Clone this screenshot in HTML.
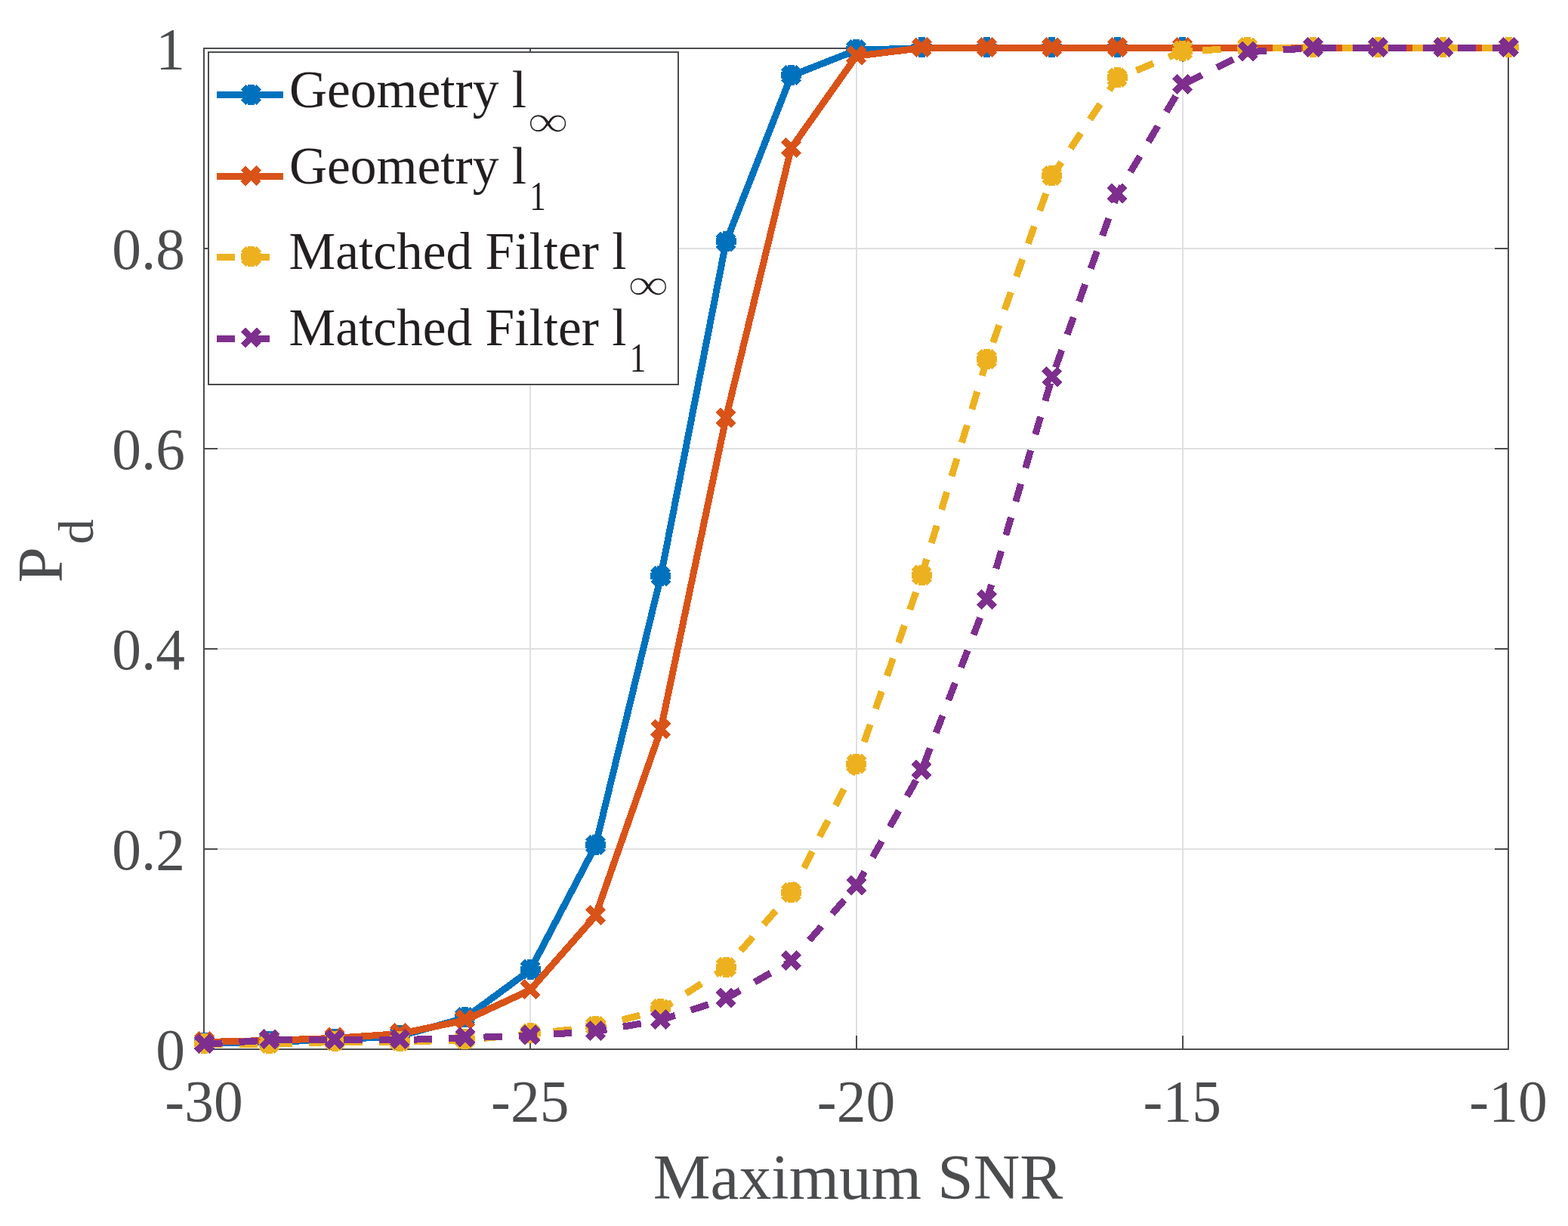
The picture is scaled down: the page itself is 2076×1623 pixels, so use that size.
<!DOCTYPE html>
<html lang="en">
<head>
<meta charset="utf-8">
<title>Pd vs Maximum SNR</title>
<style>
html,body{margin:0;padding:0;background:#ffffff;}
body{width:2076px;height:1623px;overflow:hidden;}
svg{display:block;}
</style>
</head>
<body>
<svg width="2076" height="1623" viewBox="0 0 2076 1623" shape-rendering="crispEdges">
<rect x="0" y="0" width="2076" height="1623" fill="#ffffff"/>
<path d="M702 64V1389M1134 64V1389M1566 64V1389M270 1124H1997M270 859H1997M270 594H1997M270 329H1997" stroke="#dfe0e2" stroke-width="2" fill="none"/>
<path d="M270 1389V1371M270 64V82M702 1389V1371M702 64V82M1134 1389V1371M1134 64V82M1566 1389V1371M1566 64V82M1997 1389V1371M1997 64V82M270 1389H288M1997 1389H1979M270 1124H288M1997 1124H1979M270 859H288M1997 859H1979M270 594H288M1997 594H1979M270 329H288M1997 329H1979M270 64H288M1997 64H1979" stroke="#4b4c4e" stroke-width="2" fill="none"/>
<rect x="270" y="64" width="1727" height="1325" fill="none" stroke="#4b4c4e" stroke-width="2"/>
<path d="M270.3 1381.39 L356.65 1379.4 L443 1376.35 L529.35 1371.58 L615.7 1347.6 L702.05 1284.27 L788.4 1119.7 L874.75 763.67 L961.1 320.86 L1047.45 100.38 L1133.8 66.46 L1220.15 63.54 L1306.5 63.54 L1392.85 63.54 L1479.2 63.54 L1565.55 63.54 L1651.9 63.54 L1738.25 63.54 L1824.6 63.54 L1910.95 63.54 L1997.3 63.54" fill="none" stroke="#0072BD" stroke-width="9.0" stroke-linejoin="round"/>
<path d="M256.8 1380.39H283.8M270.3 1366.89V1393.89M260 1370.09L280.6 1390.69M260 1390.69L280.6 1370.09M343.15 1378.4H370.15M356.65 1364.9V1391.9M346.35 1368.1L366.95 1388.7M346.35 1388.7L366.95 1368.1M429.5 1375.35H456.5M443 1361.85V1388.85M432.7 1365.05L453.3 1385.65M432.7 1385.65L453.3 1365.05M515.85 1370.58H542.85M529.35 1357.08V1384.08M519.05 1360.28L539.65 1380.88M519.05 1380.88L539.65 1360.28M602.2 1346.6H629.2M615.7 1333.1V1360.1M605.4 1336.3L626 1356.9M605.4 1356.9L626 1336.3M688.55 1283.27H715.55M702.05 1269.77V1296.77M691.75 1272.97L712.35 1293.57M691.75 1293.57L712.35 1272.97M774.9 1118.7H801.9M788.4 1105.2V1132.2M778.1 1108.4L798.7 1129M778.1 1129L798.7 1108.4M861.25 762.67H888.25M874.75 749.17V776.17M864.45 752.37L885.05 772.97M864.45 772.97L885.05 752.37M947.6 319.86H974.6M961.1 306.36V333.36M950.8 309.56L971.4 330.16M950.8 330.16L971.4 309.56M1033.95 99.38H1060.95M1047.45 85.88V112.88M1037.15 89.08L1057.75 109.68M1037.15 109.68L1057.75 89.08M1120.3 65.46H1147.3M1133.8 51.96V78.96M1123.5 55.16L1144.1 75.76M1123.5 75.76L1144.1 55.16M1206.65 62.54H1233.65M1220.15 49.04V76.04M1209.85 52.24L1230.45 72.84M1209.85 72.84L1230.45 52.24M1293 62.54H1320M1306.5 49.04V76.04M1296.2 52.24L1316.8 72.84M1296.2 72.84L1316.8 52.24M1379.35 62.54H1406.35M1392.85 49.04V76.04M1382.55 52.24L1403.15 72.84M1382.55 72.84L1403.15 52.24M1465.7 62.54H1492.7M1479.2 49.04V76.04M1468.9 52.24L1489.5 72.84M1468.9 72.84L1489.5 52.24M1552.05 62.54H1579.05M1565.55 49.04V76.04M1555.25 52.24L1575.85 72.84M1555.25 72.84L1575.85 52.24M1638.4 62.54H1665.4M1651.9 49.04V76.04M1641.6 52.24L1662.2 72.84M1641.6 72.84L1662.2 52.24M1724.75 62.54H1751.75M1738.25 49.04V76.04M1727.95 52.24L1748.55 72.84M1727.95 72.84L1748.55 52.24M1811.1 62.54H1838.1M1824.6 49.04V76.04M1814.3 52.24L1834.9 72.84M1814.3 72.84L1834.9 52.24M1897.45 62.54H1924.45M1910.95 49.04V76.04M1900.65 52.24L1921.25 72.84M1900.65 72.84L1921.25 52.24M1983.8 62.54H2010.8M1997.3 49.04V76.04M1987 52.24L2007.6 72.84M1987 72.84L2007.6 52.24" fill="none" stroke="#0072BD" stroke-width="9.0" stroke-linecap="butt"/>
<path d="M270.3 1379.53 L356.65 1377.41 L443 1374.37 L529.35 1368.54 L615.7 1350.65 L702.05 1310.5 L788.4 1212.45 L874.75 966.27 L961.1 553.79 L1047.45 196.31 L1133.8 74.28 L1220.15 63.54 L1306.5 63.54 L1392.85 63.54 L1479.2 63.54 L1565.55 63.54 L1651.9 63.54 L1738.25 63.54 L1824.6 63.54 L1910.95 63.54 L1997.3 63.54" fill="none" stroke="#D95319" stroke-width="9.0" stroke-linejoin="round"/>
<path d="M260 1368.23L280.6 1388.83M260 1388.83L280.6 1368.23M346.35 1366.11L366.95 1386.71M346.35 1386.71L366.95 1366.11M432.7 1363.07L453.3 1383.66M432.7 1383.66L453.3 1363.07M519.05 1357.24L539.65 1377.84M519.05 1377.84L539.65 1357.24M605.4 1339.35L626 1359.95M605.4 1359.95L626 1339.35M691.75 1299.2L712.35 1319.8M691.75 1319.8L712.35 1299.2M778.1 1201.15L798.7 1221.75M778.1 1221.75L798.7 1201.15M864.45 954.97L885.05 975.57M864.45 975.57L885.05 954.97M950.8 542.49L971.4 563.09M950.8 563.09L971.4 542.49M1037.15 185.01L1057.75 205.61M1037.15 205.61L1057.75 185.01M1123.5 62.98L1144.1 83.58M1123.5 83.58L1144.1 62.98M1209.85 52.24L1230.45 72.84M1209.85 72.84L1230.45 52.24M1296.2 52.24L1316.8 72.84M1296.2 72.84L1316.8 52.24M1382.55 52.24L1403.15 72.84M1382.55 72.84L1403.15 52.24M1468.9 52.24L1489.5 72.84M1468.9 72.84L1489.5 52.24M1555.25 52.24L1575.85 72.84M1555.25 72.84L1575.85 52.24M1641.6 52.24L1662.2 72.84M1641.6 72.84L1662.2 52.24M1727.95 52.24L1748.55 72.84M1727.95 72.84L1748.55 52.24M1814.3 52.24L1834.9 72.84M1814.3 72.84L1834.9 52.24M1900.65 52.24L1921.25 72.84M1900.65 72.84L1921.25 52.24M1987 52.24L2007.6 72.84M1987 72.84L2007.6 52.24" fill="none" stroke="#D95319" stroke-width="9.0" stroke-linecap="butt"/>
<path d="M270.3 1382.45 L356.65 1382.45 L443 1379.4 L529.35 1379.27 L615.7 1376.62 L702.05 1368.8 L788.4 1359.39 L874.75 1336.73 L961.1 1281.35 L1047.45 1182.24 L1133.8 1012.24 L1220.15 762.35 L1306.5 476.54 L1392.85 233.54 L1479.2 103.82 L1565.55 68.05 L1651.9 63.54 L1738.25 63.54 L1824.6 63.54 L1910.95 63.54 L1997.3 63.54" fill="none" stroke="#EDB120" stroke-width="9.0" stroke-linejoin="round" stroke-dasharray="24.3 22"/>
<path d="M256.8 1381.45H283.8M270.3 1367.95V1394.95M260 1371.15L280.6 1391.75M260 1391.75L280.6 1371.15M343.15 1381.45H370.15M356.65 1367.95V1394.95M346.35 1371.15L366.95 1391.75M346.35 1391.75L366.95 1371.15M429.5 1378.4H456.5M443 1364.9V1391.9M432.7 1368.1L453.3 1388.7M432.7 1388.7L453.3 1368.1M515.85 1378.27H542.85M529.35 1364.77V1391.77M519.05 1367.97L539.65 1388.57M519.05 1388.57L539.65 1367.97M602.2 1375.62H629.2M615.7 1362.12V1389.12M605.4 1365.32L626 1385.92M605.4 1385.92L626 1365.32M688.55 1367.8H715.55M702.05 1354.3V1381.3M691.75 1357.5L712.35 1378.1M691.75 1378.1L712.35 1357.5M774.9 1358.39H801.9M788.4 1344.89V1371.89M778.1 1348.09L798.7 1368.69M778.1 1368.69L798.7 1348.09M861.25 1335.73H888.25M874.75 1322.23V1349.23M864.45 1325.43L885.05 1346.03M864.45 1346.03L885.05 1325.43M947.6 1280.35H974.6M961.1 1266.85V1293.85M950.8 1270.05L971.4 1290.65M950.8 1290.65L971.4 1270.05M1033.95 1181.24H1060.95M1047.45 1167.74V1194.74M1037.15 1170.94L1057.75 1191.54M1037.15 1191.54L1057.75 1170.94M1120.3 1011.24H1147.3M1133.8 997.74V1024.74M1123.5 1000.94L1144.1 1021.54M1123.5 1021.54L1144.1 1000.94M1206.65 761.35H1233.65M1220.15 747.85V774.85M1209.85 751.05L1230.45 771.65M1209.85 771.65L1230.45 751.05M1293 475.54H1320M1306.5 462.04V489.04M1296.2 465.24L1316.8 485.84M1296.2 485.84L1316.8 465.24M1379.35 232.54H1406.35M1392.85 219.04V246.04M1382.55 222.24L1403.15 242.84M1382.55 242.84L1403.15 222.24M1465.7 102.82H1492.7M1479.2 89.32V116.32M1468.9 92.52L1489.5 113.12M1468.9 113.12L1489.5 92.52M1552.05 67.05H1579.05M1565.55 53.55V80.55M1555.25 56.75L1575.85 77.35M1555.25 77.35L1575.85 56.75M1638.4 62.54H1665.4M1651.9 49.04V76.04M1641.6 52.24L1662.2 72.84M1641.6 72.84L1662.2 52.24M1724.75 62.54H1751.75M1738.25 49.04V76.04M1727.95 52.24L1748.55 72.84M1727.95 72.84L1748.55 52.24M1811.1 62.54H1838.1M1824.6 49.04V76.04M1814.3 52.24L1834.9 72.84M1814.3 72.84L1834.9 52.24M1897.45 62.54H1924.45M1910.95 49.04V76.04M1900.65 52.24L1921.25 72.84M1900.65 72.84L1921.25 52.24M1983.8 62.54H2010.8M1997.3 49.04V76.04M1987 52.24L2007.6 72.84M1987 72.84L2007.6 52.24" fill="none" stroke="#EDB120" stroke-width="9.0" stroke-linecap="butt"/>
<path d="M270.3 1382.45 L356.65 1376.88 L443 1376.88 L529.35 1376.75 L615.7 1373.97 L702.05 1370.79 L788.4 1365.49 L874.75 1350.52 L961.1 1322.03 L1047.45 1272.47 L1133.8 1173.1 L1220.15 1020.06 L1306.5 794.81 L1392.85 499.73 L1479.2 257.12 L1565.55 112.3 L1651.9 68.84 L1738.25 63.54 L1824.6 63.54 L1910.95 63.54 L1997.3 63.54" fill="none" stroke="#7E2F8E" stroke-width="9.0" stroke-linejoin="round" stroke-dasharray="24.3 22"/>
<path d="M260 1371.15L280.6 1391.75M260 1391.75L280.6 1371.15M346.35 1365.58L366.95 1386.18M346.35 1386.18L366.95 1365.58M432.7 1365.58L453.3 1386.18M432.7 1386.18L453.3 1365.58M519.05 1365.45L539.65 1386.05M519.05 1386.05L539.65 1365.45M605.4 1362.67L626 1383.27M605.4 1383.27L626 1362.67M691.75 1359.49L712.35 1380.09M691.75 1380.09L712.35 1359.49M778.1 1354.19L798.7 1374.79M778.1 1374.79L798.7 1354.19M864.45 1339.22L885.05 1359.82M864.45 1359.82L885.05 1339.22M950.8 1310.73L971.4 1331.33M950.8 1331.33L971.4 1310.73M1037.15 1261.17L1057.75 1281.77M1037.15 1281.77L1057.75 1261.17M1123.5 1161.8L1144.1 1182.4M1123.5 1182.4L1144.1 1161.8M1209.85 1008.76L1230.45 1029.36M1209.85 1029.36L1230.45 1008.76M1296.2 783.51L1316.8 804.11M1296.2 804.11L1316.8 783.51M1382.55 488.43L1403.15 509.03M1382.55 509.03L1403.15 488.43M1468.9 245.82L1489.5 266.43M1468.9 266.43L1489.5 245.82M1555.25 101L1575.85 121.6M1555.25 121.6L1575.85 101M1641.6 57.54L1662.2 78.14M1641.6 78.14L1662.2 57.54M1727.95 52.24L1748.55 72.84M1727.95 72.84L1748.55 52.24M1814.3 52.24L1834.9 72.84M1814.3 72.84L1834.9 52.24M1900.65 52.24L1921.25 72.84M1900.65 72.84L1921.25 52.24M1987 52.24L2007.6 72.84M1987 72.84L2007.6 52.24" fill="none" stroke="#7E2F8E" stroke-width="9.0" stroke-linecap="butt"/>
<g font-family="'Liberation Serif', serif" font-size="77.5" fill="#4b4c4e"><text x="245" y="1416" text-anchor="end">0</text><text x="245" y="1151" text-anchor="end">0.2</text><text x="245" y="886" text-anchor="end">0.4</text><text x="245" y="621" text-anchor="end">0.6</text><text x="245" y="356" text-anchor="end">0.8</text><text x="245" y="91" text-anchor="end">1</text><text x="270" y="1484" text-anchor="middle">-30</text><text x="701.75" y="1484" text-anchor="middle">-25</text><text x="1133.5" y="1484" text-anchor="middle">-20</text><text x="1565.25" y="1484" text-anchor="middle">-15</text><text x="1997" y="1484" text-anchor="middle">-10</text></g>
<text x="1136" y="1587.3" text-anchor="middle" font-family="'Liberation Serif', serif" font-size="85.25" fill="#4b4c4e">Maximum SNR</text>
<g transform="translate(82 771.5) rotate(-90)" font-family="'Liberation Serif', serif" fill="#4b4c4e"><text x="0" y="0" font-size="85.25">P</text><text x="51.1" y="41.05" font-size="66.5">d</text></g>
<rect x="276" y="69" width="622" height="440" fill="#ffffff" stroke="#4b4c4e" stroke-width="2"/>
<path d="M287 125.9H375" stroke="#0072BD" stroke-width="9.0" fill="none"/>
<path d="M318.9 125.4H345.9M332.4 111.9V138.9M322.1 115.1L342.7 135.7M322.1 135.7L342.7 115.1" stroke="#0072BD" stroke-width="9.0" fill="none"/>
<path d="M287 233.4H375" stroke="#D95319" stroke-width="9.0" fill="none"/>
<path d="M322.1 222.6L342.7 243.2M322.1 243.2L342.7 222.6" stroke="#D95319" stroke-width="9.0" fill="none"/>
<path d="M287 340.4H375" stroke="#EDB120" stroke-width="9.0" fill="none" stroke-dasharray="24 22"/>
<path d="M318.9 339.4H345.9M332.4 325.9V352.9M322.1 329.1L342.7 349.7M322.1 349.7L342.7 329.1" stroke="#EDB120" stroke-width="9.0" fill="none"/>
<path d="M287 448.5H375" stroke="#7E2F8E" stroke-width="9.0" fill="none" stroke-dasharray="24 22"/>
<path d="M322.1 436.7L342.7 457.3M322.1 457.3L342.7 436.7" stroke="#7E2F8E" stroke-width="9.0" fill="none"/>
<g font-family="'Liberation Serif', serif" font-size="69.4" fill="#231f20"><text x="382.9" y="142.1">Geometry l</text><text x="382.9" y="243.1">Geometry l</text><text x="382.5" y="355.9">Matched Filter l</text><text x="382.5" y="457">Matched Filter l</text></g>
<g font-family="'Liberation Serif', serif" fill="#231f20"><text transform="translate(701.2 277.9) scale(0.79 1)" font-size="54.5">1</text><text transform="translate(833.8 491.9) scale(0.79 1)" font-size="54.5">1</text><text transform="translate(698.4 181.2) scale(1.25 1)" font-size="61" stroke="#ffffff" stroke-width="1.1">&#8734;</text><text transform="translate(831.2 396.8) scale(1.25 1)" font-size="61" stroke="#ffffff" stroke-width="1.1">&#8734;</text></g>
</svg>
</body>
</html>
